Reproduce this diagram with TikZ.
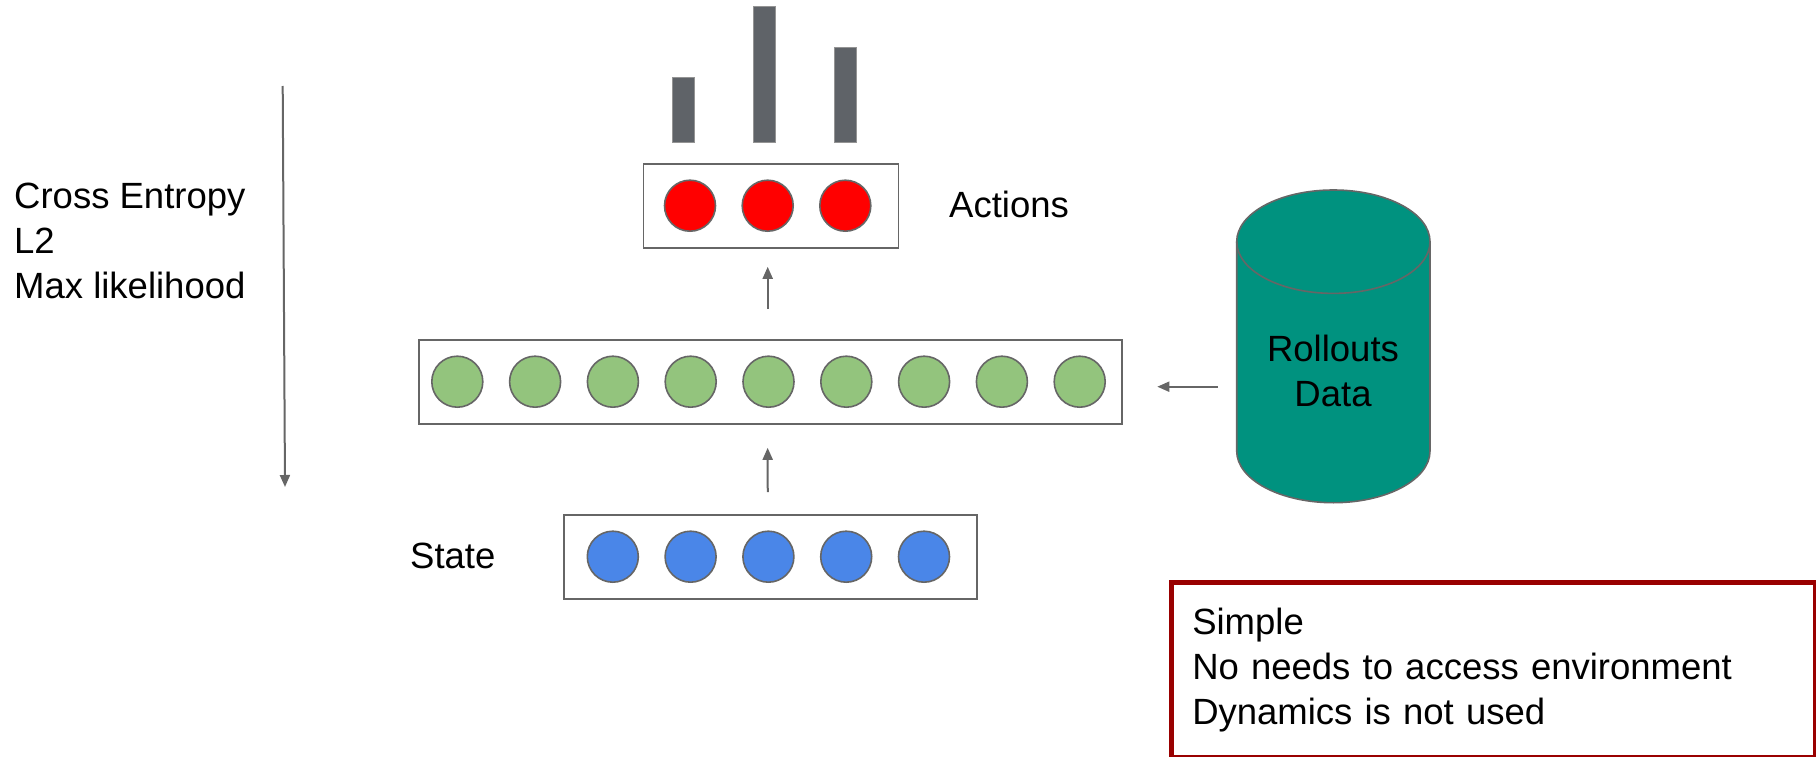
\documentclass[tikz,border=0pt]{standalone}
\usepackage{fontspec}
\setmainfont{Liberation Sans}
\usetikzlibrary{arrows.meta,calc}

\definecolor{lineg}{HTML}{666666}
\definecolor{barg}{HTML}{5F6368}
\definecolor{actred}{HTML}{FF0000}
\definecolor{hidgreen}{HTML}{93C47D}
\definecolor{inblue}{HTML}{4A86E8}
\definecolor{dbteal}{HTML}{00927F}
\definecolor{notered}{HTML}{990000}

\tikzset{
  layerbox/.style={draw=lineg, line width=1.6pt, fill=white, minimum height=84pt, inner sep=0pt},
  unit/.style={circle, draw=lineg, line width=1.6pt, minimum size=51pt, inner sep=0pt},
  bar/.style={draw=lineg!70, line width=0.8pt, fill=barg, minimum width=22pt, inner sep=0pt, anchor=south},
  lbl/.style={font=\fontsize{36.5}{45}\selectfont, inner sep=0pt},
  arr/.style={draw=lineg, line width=2pt, -{Triangle[length=12pt,width=10pt]}},
}

\begin{document}
\begin{tikzpicture}[x=1pt,y=-1pt]
\useasboundingbox (0,0) rectangle (1816,757);

% output distribution
\node[bar, minimum height=65pt]  (b1) at (683.7,143) {};
\node[bar, minimum height=136pt] (b2) at (764.7,143) {};
\node[bar, minimum height=95pt]  (b3) at (845.7,143) {};

% action layer
\node[layerbox, minimum width=255pt] (act) at (771,206) {};
\foreach \i/\x in {1/690,2/767.7,3/845.3}
  \node[unit, fill=actred] (a\i) at (\x,205.7) {};
\node[lbl, anchor=base west] (actlbl) at (949,217) {Actions};

% hidden layer
\node[layerbox, minimum width=703pt] (hid) at (770.3,382) {};
\foreach \i in {0,...,8}
  \node[unit, fill=hidgreen] (h\i) at ({457.3+77.8*\i},381.7) {};

% state layer
\node[layerbox, minimum width=413pt] (st) at (770.5,557) {};
\foreach \i in {0,...,4}
  \node[unit, fill=inblue] (s\i) at ({612.8+77.8*\i},556.7) {};
\node[lbl, anchor=base west] (stlbl) at (410,568) {State};

% forward connections
\draw[arr, shorten <=22pt, shorten >=23pt] ([xshift=-2.7pt]st.north) -- ([xshift=-2.7pt]hid.south);
\draw[arr, shorten <=30pt, shorten >=18pt] ([xshift=-2.6pt]hid.north) -- ([xshift=-3.3pt]act.south);

% rollouts database
\fill[dbteal] (1236.7,241.7) -- (1236.7,451)
  arc[start angle=180, end angle=0, x radius=96.65, y radius=51.7]
  -- (1430,241.7)
  arc[start angle=0, end angle=-180, x radius=96.65, y radius=51.7] -- cycle;
\draw[lineg, line width=1.6pt] (1236.7,241.7) -- (1236.7,451)
  arc[start angle=180, end angle=0, x radius=96.65, y radius=51.7]
  -- (1430,241.7)
  arc[start angle=0, end angle=-180, x radius=96.65, y radius=51.7];
\draw[lineg, line width=1.6pt] (1236.7,241.7)
  arc[start angle=180, end angle=0, x radius=96.65, y radius=51.7];
% the base anchor of a multi-line node sits on its last line
\node[lbl, align=center, anchor=base] (db) at (1333,406.7) {Rollouts\\Data};
\coordinate (dbout) at (1218,386.7);
\draw[arr] (dbout) -- ([xshift=34.7pt]hid.east |- dbout);

% loss direction
\coordinate (losstop) at (282.7,86);
\coordinate (lossbot) at (285,487);
\draw[arr] (losstop) -- (lossbot);
\node[lbl, align=left, anchor=base west] (loss) at (14,298.3) {Cross Entropy\\L2\\Max likelihood};

% notes
\node[draw=notered, line width=4.5pt, anchor=north west, minimum width=644pt, minimum height=175pt,
      inner xsep=21pt, text width=602pt, align=left, font=\fontsize{36.5}{45}\selectfont] (note)
  at (1169,580) {Simple\\No needs to access environment\\Dynamics is not used};
\end{tikzpicture}
\end{document}
